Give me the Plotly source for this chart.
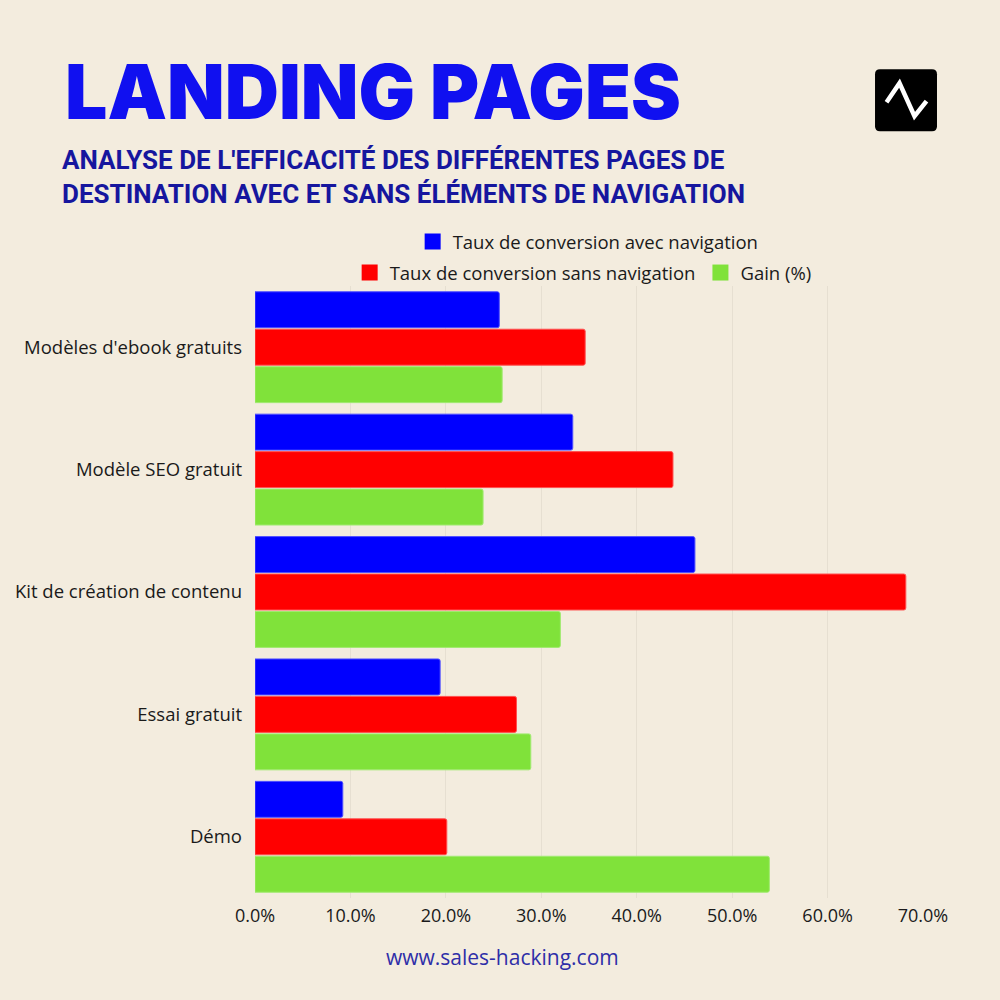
import plotly.graph_objects as go

categories = ["Modèles d'ebook gratuits", "Modèle SEO gratuit", "Kit de création de contenu", "Essai gratuit", "Démo"]
with_nav = [25.6, 33.3, 46.1, 19.4, 9.2]
without_nav = [34.6, 43.8, 68.2, 27.4, 20.1]
gain = [25.9, 23.9, 32.0, 28.9, 53.9]
series_names = ["Taux de conversion avec navigation", "Taux de conversion sans navigation", "Gain (%)"]
x_ticks = [0, 10, 20, 30, 40, 50, 60, 70]
x_ticktext = [f"{v:.1f}%" for v in x_ticks]

BG = "#F3ECDE"
BLUE = "#0000FF"
RED = "#FF0000"
GREEN = "#80E23A"
LINES = ["#5050FF", "#FF5050", "#A0EA70"]
FONT = "Open Sans"

W, H = 1000, 1000
L, R, T, B = 254.7, 923.0, 286.0, 898.5


def px(xp, yp):
    return (xp - L) / (R - L), (B - yp) / (B - T)


fig = go.Figure()
for name, vals, col, lc in zip(series_names, [with_nav, without_nav, gain], [BLUE, RED, GREEN], LINES):
    fig.add_trace(go.Bar(
        y=categories, x=vals, orientation="h", name=name,
        marker=dict(color=col, line=dict(color=lc, width=1), cornerradius=2),
        showlegend=False,
    ))

# legend proxies
legend_ids = ["legend", "legend2", "legend2"]
for name, col, lg in zip(series_names, [BLUE, RED, GREEN], legend_ids):
    fig.add_trace(go.Scatter(
        x=[None], y=[None], mode="markers", name=name,
        marker=dict(symbol="square", size=22, color=col),
        legend=lg, showlegend=True,
    ))

lx1, ly1 = px(588, 242)
lx2, ly2 = px(583, 273)
legend_common = dict(orientation="h", xanchor="center", yanchor="middle",
                     bgcolor="rgba(0,0,0,0)", font=dict(family=FONT, size=18.5, color="#1a1a1a"),
                     itemclick=False, itemdoubleclick=False)

annotations = []
tx, ty = px(63, 91)
annotations.append(dict(text="LANDING PAGES", x=tx, y=ty, xref="paper", yref="paper",
                        xanchor="left", yanchor="middle", showarrow=False,
                        font=dict(family="Inter", size=75, color="#1010F0", weight=900)))
sx, sy = px(60, 177)
annotations.append(dict(text="<b>ANALYSE DE L'EFFICACITÉ DES DIFFÉRENTES PAGES DE<br>DESTINATION AVEC ET SANS ÉLÉMENTS DE NAVIGATION</b>",
                        x=sx, y=sy, xref="paper", yref="paper", align="left",
                        xanchor="left", yanchor="middle", showarrow=False,
                        font=dict(family="Liberation Sans Narrow, Roboto", size=26, color="#16169E")))
fx, fy = px(502, 958)
annotations.append(dict(text="www.sales-hacking.com", x=fx, y=fy, xref="paper", yref="paper",
                        xanchor="center", yanchor="middle", showarrow=False,
                        font=dict(family=FONT, size=21, color="#2E2EA8")))

# logo
x0, y0 = px(875, 131)
x1, y1 = px(937, 69)
rx = 5 / (R - L)
ry = 5 / (B - T)
logo_path = (f"M{x0+rx},{y0} L{x1-rx},{y0} Q{x1},{y0} {x1},{y0+ry} L{x1},{y1-ry} Q{x1},{y1} {x1-rx},{y1} "
             f"L{x0+rx},{y1} Q{x0},{y1} {x0},{y1-ry} L{x0},{y0+ry} Q{x0},{y0} {x0+rx},{y0} Z")
pts = [px(886.5, 102), px(899.5, 83), px(914.5, 116), px(926.5, 101)]
zig = "M" + " L".join(f"{a},{b}" for a, b in pts)
shapes = [
    dict(type="path", path=logo_path, xref="paper", yref="paper", fillcolor="#000000", line=dict(width=0)),
    dict(type="path", path=zig, xref="paper", yref="paper", line=dict(color="#FFFFFF", width=4.5)),
]

fig.update_layout(
    width=W, height=H,
    margin=dict(l=L, r=W - R, t=T, b=H - B, autoexpand=False),
    paper_bgcolor=BG, plot_bgcolor=BG,
    barmode="group", bargap=0.082, bargroupgap=0.04,
    font=dict(family=FONT, size=18.5, color="#1a1a1a"),
    legend=dict(x=lx1, y=ly1, **legend_common),
    legend2=dict(x=lx2, y=ly2, **legend_common),
    annotations=annotations, shapes=shapes,
    xaxis=dict(range=[0, 70], tickvals=x_ticks, ticktext=x_ticktext,
               showgrid=True, gridcolor="#E6DFD1", gridwidth=1, zeroline=False,
               showline=False, ticklabelstandoff=5,
               tickfont=dict(family=FONT, size=18, color="#1a1a1a"), fixedrange=True),
    yaxis=dict(autorange="reversed", showgrid=False, zeroline=False, showline=False,
               ticklabelstandoff=12, tickfont=dict(family=FONT, size=18.5, color="#1a1a1a"),
               fixedrange=True),
)

fig.write_html(
    "out.html",
    config={"displayModeBar": False},
    post_script="document.body.style.margin='0';document.body.style.background='#F3ECDE';document.body.style.overflow='hidden';",
)
